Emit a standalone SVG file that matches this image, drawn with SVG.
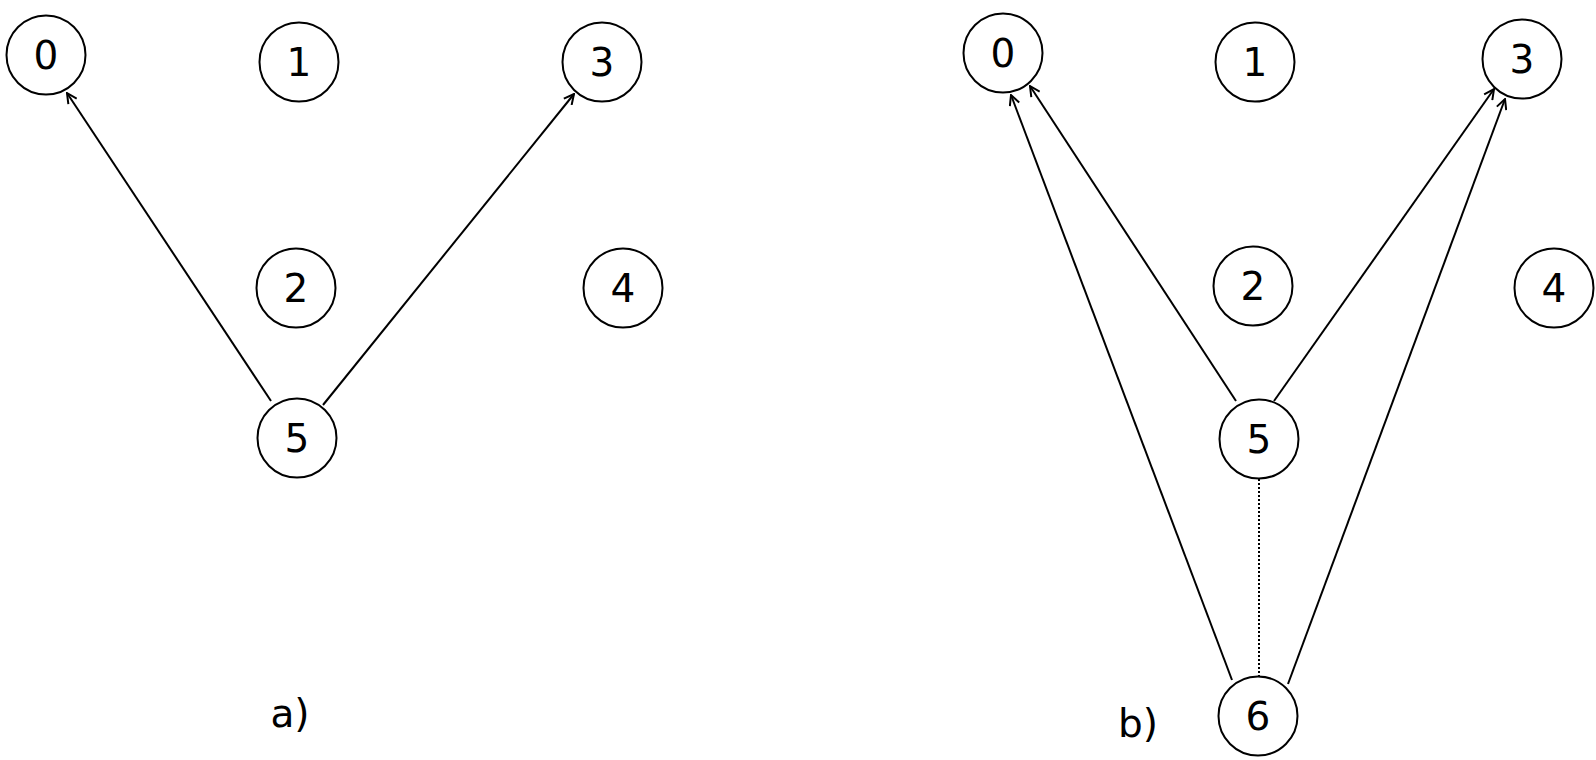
<svg xmlns="http://www.w3.org/2000/svg" width="1596" height="760" viewBox="0 0 1596 760">
<style>
.n circle{fill:#fff;stroke:#000;stroke-width:2}
.n text,.lbl{font-family:"DejaVu Sans",sans-serif;font-size:39px;fill:#000;text-anchor:middle;dominant-baseline:central}
.e{stroke:#000;stroke-width:2;fill:none}
.a{marker-end:url(#arr)}
.d{stroke-dasharray:2 2}
</style>
<defs>
<marker id="arr" viewBox="0 0 12 12" refX="11" refY="6" markerWidth="12" markerHeight="12" markerUnits="userSpaceOnUse" orient="auto">
<path d="M1,1 L11,6 L1,11" fill="none" stroke="#000" stroke-width="2"/>
</marker>
</defs>
<rect width="1596" height="760" fill="#fff"/>
<g id="connectors">
<line class="e a" x1="271" y1="401" x2="67" y2="93"/>
<line class="e a" x1="323" y1="405" x2="574" y2="94"/>
<line class="e a" x1="1236" y1="401" x2="1030" y2="86"/>
<line class="e a" x1="1232" y1="680" x2="1011" y2="95"/>
<line class="e a" x1="1274" y1="401" x2="1494" y2="89"/>
<line class="e a" x1="1288" y1="684" x2="1505" y2="99"/>
<line class="e d" x1="1259" y1="479" x2="1259" y2="676"/>
</g>
<g id="a0" class="n"><circle cx="46" cy="55" r="39.5"/><text x="46" y="55">0</text></g>
<g id="a1" class="n"><circle cx="299" cy="62" r="39.5"/><text x="299" y="62">1</text></g>
<g id="a3" class="n"><circle cx="602" cy="62" r="39.5"/><text x="602" y="62">3</text></g>
<g id="a2" class="n"><circle cx="296" cy="288" r="39.5"/><text x="296" y="288">2</text></g>
<g id="a4" class="n"><circle cx="623" cy="288" r="39.5"/><text x="623" y="288">4</text></g>
<g id="a5" class="n"><circle cx="297" cy="438" r="39.5"/><text x="297" y="438">5</text></g>
<g id="b0" class="n"><circle cx="1003" cy="53" r="39.5"/><text x="1003" y="53">0</text></g>
<g id="b1" class="n"><circle cx="1255" cy="62" r="39.5"/><text x="1255" y="62">1</text></g>
<g id="b3" class="n"><circle cx="1522" cy="59" r="39.5"/><text x="1522" y="59">3</text></g>
<g id="b2" class="n"><circle cx="1253" cy="286" r="39.5"/><text x="1253" y="286">2</text></g>
<g id="b4" class="n"><circle cx="1554" cy="288" r="39.5"/><text x="1554" y="288">4</text></g>
<g id="b5" class="n"><circle cx="1259" cy="439" r="39.5"/><text x="1259" y="439">5</text></g>
<g id="b6" class="n"><circle cx="1258" cy="716" r="39.5"/><text x="1258" y="716">6</text></g>
<text class="lbl" x="290" y="713">a)</text>
<text class="lbl" x="1138" y="723">b)</text>
</svg>
